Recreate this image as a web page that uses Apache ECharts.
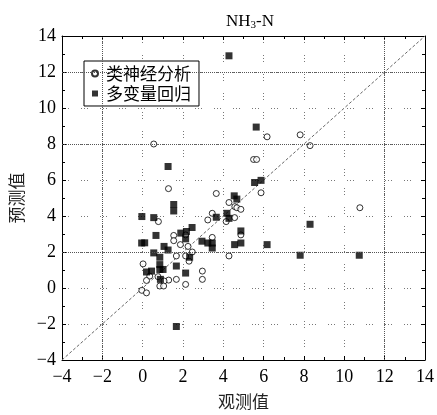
<!DOCTYPE html>
<html>
<head>
<meta charset="utf-8">
<script src="https://cdn.jsdelivr.net/npm/echarts@6/dist/echarts.min.js"></script>
<style>
  html, body { margin: 0; padding: 0; background: #fff; }
  #chart { width: 437px; height: 415px; }
</style>
</head>
<body>
<div id="chart"></div>
<script>
// Observed vs. predicted NH3-N: neural network model (open circles)
const annPoints = [
  [0.55, 8.0], [6.17, 8.4], [7.81, 8.51], [8.3, 7.91], [5.5, 7.14], [5.65, 7.14],
  [1.28, 5.52], [5.87, 5.29], [3.65, 5.25], [4.28, 4.75], [4.57, 4.52], [4.67, 4.46],
  [4.87, 4.37], [10.77, 4.46], [3.45, 4.15], [3.23, 3.78], [4.56, 3.91], [4.14, 3.69],
  [0.78, 3.69], [4.87, 2.95], [1.54, 2.92], [2.13, 2.95], [1.54, 2.63], [3.45, 2.81],
  [1.87, 2.41], [2.25, 2.31], [2.46, 2.0], [4.28, 1.78], [1.67, 1.78], [2.13, 1.78],
  [2.3, 1.49], [0.02, 1.34], [2.96, 0.94], [0.35, 0.66], [0.19, 0.42], [1.29, 0.44],
  [1.06, 0.39], [1.67, 0.48], [2.96, 0.48], [0.85, 0.11], [1.04, 0.11], [2.13, 0.2],
  [-0.04, -0.13], [0.19, -0.27], [0.76, 0.63]
];

// Multiple regression model (filled squares)
const mlrPoints = [
  [4.28, 12.9], [5.63, 8.94], [1.26, 6.75], [5.87, 5.98], [5.55, 5.86], [4.54, 5.12],
  [4.67, 4.94], [1.54, 4.64], [1.54, 4.28], [4.18, 4.15], [3.65, 3.93], [4.28, 3.87],
  [-0.04, 3.97], [0.55, 3.91], [8.3, 3.54], [4.87, 3.17], [0.66, 2.92], [1.89, 3.05],
  [2.17, 3.14], [2.45, 3.36], [2.13, 2.73], [0.1, 2.51], [-0.05, 2.5], [1.06, 2.31],
  [2.94, 2.6], [3.23, 2.5], [3.45, 2.5], [3.45, 2.22], [4.56, 2.41], [4.87, 2.5],
  [6.17, 2.41], [1.26, 2.11], [0.55, 1.95], [0.85, 1.71], [2.33, 1.71], [0.85, 1.3],
  [0.85, 1.03], [1.01, 1.03], [1.67, 1.22], [0.19, 0.89], [0.44, 0.94], [2.13, 0.83],
  [0.88, 0.48], [1.67, -2.14], [7.81, 1.82], [10.74, 1.82]
];

// 1:1 reference line across the axis range
const oneToOne = [[-4, -4], [14, 14]];

// Emphasised grid positions
const strongX = [-2, 12];
const strongY = [2, 8, 12];

const axisMin = -4, axisMax = 14, axisStep = 2;

const serif = '"Liberation Serif", "DejaVu Serif", serif';
const cjk = '"Noto Sans CJK SC", sans-serif';
const minus = v => String(v).replace('-', '\u2212');

const lightGrid = { show: true, lineStyle: { color: '#777', width: 1, type: [1, 2, 1, 2, 1, 12] } };

function baseAxis(extra) {
  return Object.assign({
    type: 'value', min: axisMin, max: axisMax, interval: axisStep,
    axisLine: { show: true, onZero: false, lineStyle: { color: '#000', width: 1 } },
    axisTick: { show: true, inside: true, length: 4, lineStyle: { color: '#000' } },
    minorTick: { show: true, splitNumber: 2, length: 3, lineStyle: { color: '#000' } },
    splitLine: { show: false }
  }, extra);
}

const chart = echarts.init(document.getElementById('chart'), null, { renderer: 'canvas' });

chart.setOption({
  animation: false,
  backgroundColor: '#fff',
  title: {
    text: '{m|NH}{s|3}{m|-N}',
    left: 245, top: 7, textAlign: 'center',
    textStyle: {
      fontWeight: 'normal',
      rich: {
        m: { fontFamily: serif, fontSize: 17, fontWeight: 'normal', color: '#000' },
        s: { fontFamily: serif, fontSize: 11, fontWeight: 'normal', color: '#000', verticalAlign: 'bottom', padding: [8, 0, 0, 0] }
      }
    }
  },
  grid: { left: 62, right: 11, top: 36, bottom: 52 },
  xAxis: [
    baseAxis({
      position: 'bottom',
      name: '观测值', nameLocation: 'middle', nameGap: 33,
      nameTextStyle: { fontFamily: cjk, fontSize: 17, color: '#222' },
      axisLabel: { fontFamily: serif, fontSize: 18, color: '#000', margin: 8, formatter: minus },
      splitLine: lightGrid
    }),
    baseAxis({ position: 'top', axisLabel: { show: false } })
  ],
  yAxis: [
    baseAxis({
      position: 'left',
      name: '预测值', nameLocation: 'middle', nameGap: 37, nameRotate: 90,
      nameTextStyle: { fontFamily: cjk, fontSize: 17, color: '#222' },
      axisLabel: { fontFamily: serif, fontSize: 18, color: '#000', margin: 6, formatter: minus },
      splitLine: lightGrid
    }),
    baseAxis({ position: 'right', axisLabel: { show: false } })
  ],
  legend: {
    orient: 'vertical', left: 84, top: 61,
    backgroundColor: '#fff', borderColor: '#000', borderWidth: 1,
    padding: [4, 8, 4, 7], itemGap: 3, itemWidth: 6, itemHeight: 6,
    textStyle: { fontFamily: cjk, fontSize: 17, color: '#000', padding: [0, 0, 0, 3] },
    data: [
      { name: '类神经分析', icon: 'circle' },
      { name: '多变量回归', icon: 'rect' }
    ]
  },
  series: [
    {
      name: 'ref', type: 'line', data: oneToOne, silent: true, z: 1,
      showSymbol: false, symbol: 'none',
      lineStyle: { color: '#666', width: 1, type: [3, 2] },
      markLine: {
        silent: true, symbol: 'none', label: { show: false },
        lineStyle: { color: '#555', width: 1, type: [1, 1] },
        data: strongX.map(v => ({ xAxis: v })).concat(strongY.map(v => ({ yAxis: v })))
      }
    },
    {
      name: '类神经分析', type: 'scatter', data: annPoints, z: 3,
      symbol: 'circle', symbolSize: 6,
      itemStyle: { color: '#fff', borderColor: '#000', borderWidth: 1 }
    },
    {
      name: '多变量回归', type: 'scatter', data: mlrPoints, z: 4,
      symbol: 'rect', symbolSize: 7,
      itemStyle: { color: '#000' }
    }
  ]
});
</script>
</body>
</html>
